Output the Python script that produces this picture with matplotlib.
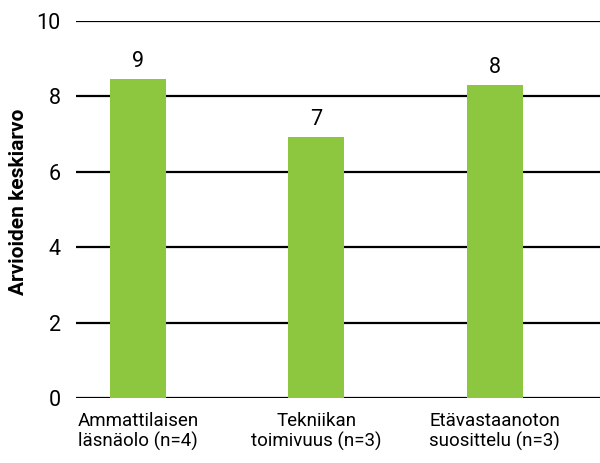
import matplotlib.pyplot as plt
import numpy as np

plt.rcParams['font.family'] = ['Roboto', 'DejaVu Sans']

categories = ["Ammattilaisen\nläsnäolo (n=4)", "Tekniikan\ntoimivuus (n=3)", "Etävastaanoton\nsuosittelu (n=3)"]
values = [8.45, 6.92, 8.3]
labels = ["9", "7", "8"]

fig = plt.figure(figsize=(6, 4.63), dpi=100)
ax = fig.add_axes([0.1267, 0.1404, 0.8733, 0.8142])

x = np.arange(len(categories))
ax.set_axisbelow(True)
ax.yaxis.grid(True, color="black", linewidth=1.6)
bars = ax.bar(x, values, width=0.314, color="#8DC63F", zorder=3)
for b, lab in zip(bars, labels):
    ax.text(b.get_x() + b.get_width() / 2, b.get_height() + 0.2, lab,
            ha="center", va="bottom", fontsize=15.5)

ax.set_xlim(-0.347, 2.59)
ax.set_ylim(0, 10)
ax.set_yticks([0, 2, 4, 6, 8, 10])
ax.set_xticks(x)
ax.set_xticklabels(categories, fontsize=13.5, linespacing=1.1)
ax.tick_params(axis="y", length=0, labelsize=15.5, pad=11)
ax.tick_params(axis="x", length=0, pad=10)
for s in ax.spines.values():
    s.set_visible(False)
ax.set_ylabel("Arvioiden keskiarvo", fontsize=15, fontweight="bold")
ax.yaxis.set_label_coords(-0.092, 0.52)

plt.savefig("out.png")
